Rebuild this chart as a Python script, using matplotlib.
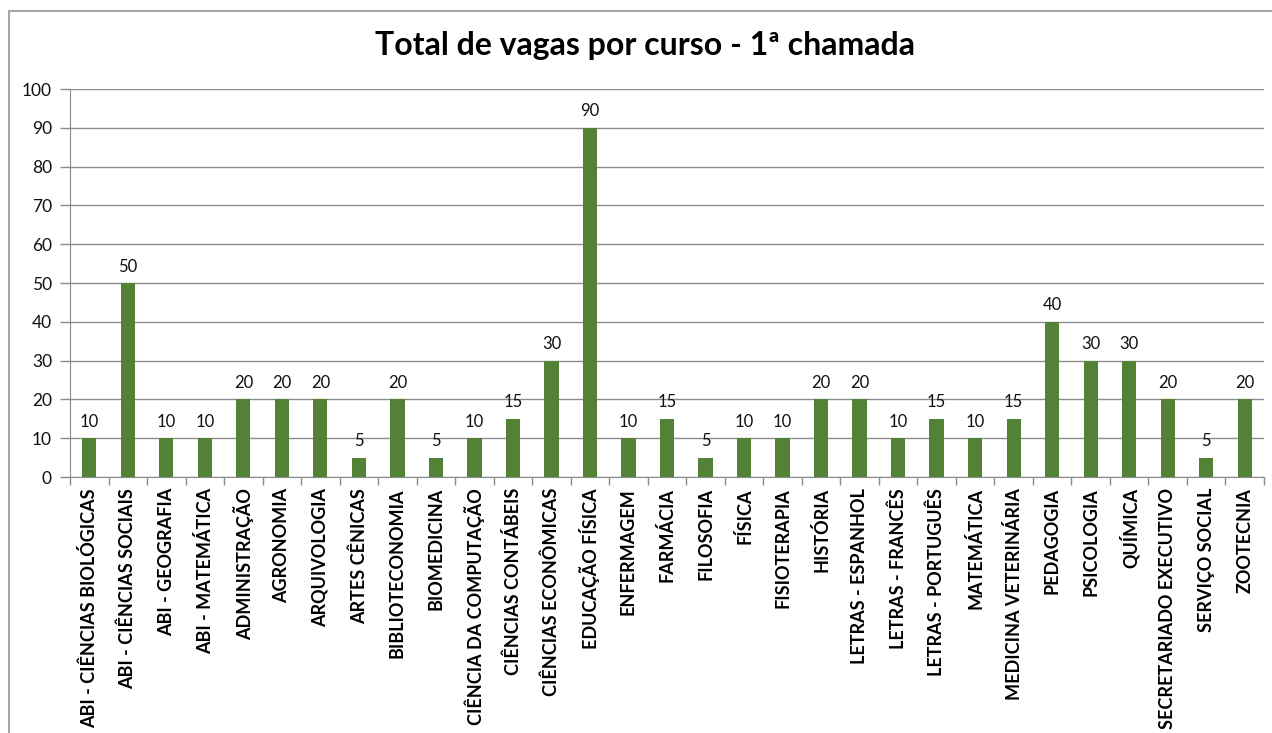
import matplotlib
matplotlib.use("Agg")
import matplotlib.pyplot as plt
from matplotlib.lines import Line2D

plt.rcParams['font.family'] = ['Lato', 'DejaVu Sans']

cursos = [
    "ABI - CIÊNCIAS BIOLÓGICAS", "ABI - CIÊNCIAS SOCIAIS", "ABI - GEOGRAFIA",
    "ABI - MATEMÁTICA", "ADMINISTRAÇÃO", "AGRONOMIA", "ARQUIVOLOGIA",
    "ARTES CÊNICAS", "BIBLIOTECONOMIA", "BIOMEDICINA", "CIÊNCIA DA COMPUTAÇÃO",
    "CIÊNCIAS CONTÁBEIS", "CIÊNCIAS ECONÔMICAS", "EDUCAÇÃO FÍSICA", "ENFERMAGEM",
    "FARMÁCIA", "FILOSOFIA", "FÍSICA", "FISIOTERAPIA", "HISTÓRIA",
    "LETRAS - ESPANHOL", "LETRAS - FRANCÊS", "LETRAS - PORTUGUÊS", "MATEMÁTICA",
    "MEDICINA VETERINÁRIA", "PEDAGOGIA", "PSICOLOGIA", "QUÍMICA",
    "SECRETARIADO EXECUTIVO", "SERVIÇO SOCIAL", "ZOOTECNIA",
]
vagas = [10, 50, 10, 10, 20, 20, 20, 5, 20, 5, 10, 15, 30, 90, 10,
         15, 5, 10, 10, 20, 20, 10, 15, 10, 15, 40, 30, 30, 20, 5, 20]
yticks = [0, 10, 20, 30, 40, 50, 60, 70, 80, 90, 100]
titulo = "Total de vagas por curso - 1ª chamada"

W, H = 1272, 733
fig = plt.figure(figsize=(W / 100, H / 100), dpi=100)

# chart border (cropped at right and bottom)
border_col = "#a6a6a6"
fig.add_artist(Line2D([9 / W, 1.0], [1 - 11 / H, 1 - 11 / H], transform=fig.transFigure,
                      color=border_col, lw=1.5))
fig.add_artist(Line2D([9 / W, 9 / W], [1 - 11 / H, 0.0], transform=fig.transFigure,
                      color=border_col, lw=1.5))

left, right = 70 / W, 1264 / W
bottom, top = 1 - 477 / H, 1 - 89 / H
ax = fig.add_axes([left, bottom, right - left, top - bottom])

x = list(range(len(cursos)))
ax.bar(x, vagas, width=0.37, color="#538135", zorder=3)

for xi, v in zip(x, vagas):
    ax.annotate(str(v), (xi, v), xytext=(0, 6), textcoords="offset points",
                ha="center", va="bottom", fontsize=12, color="#111111")

ax.set_xlim(-0.5, len(cursos) - 0.5)
ax.set_ylim(0, 100)
ax.set_yticks(yticks)
ax.set_yticklabels([str(t) for t in yticks], fontsize=12.5, color="#111111")
ax.yaxis.grid(True, color="#8c8c8c", lw=1.0, zorder=0)
ax.set_axisbelow(True)

ax.set_xticks(x)
ax.set_xticklabels(cursos, rotation=90, fontsize=13, fontweight="bold",
                   color="#000000", va="top", ha="center")
ax.tick_params(axis="x", length=0, pad=8)
# minor ticks between categories
ax.set_xticks([i - 0.5 for i in range(len(cursos) + 1)], minor=True)
ax.tick_params(axis="x", which="minor", length=6, color="#8c8c8c", width=1)
ax.tick_params(axis="y", length=7, color="#8c8c8c", width=1, pad=6)

for s in ["top", "right"]:
    ax.spines[s].set_visible(False)
ax.spines["left"].set_color("#8c8c8c")
ax.spines["bottom"].set_color("#8c8c8c")

fig.text(645 / W, 1 - 45 / H, titulo, ha="center", va="center",
         fontsize=23, fontweight="bold", color="#000000")

fig.savefig("out.png", dpi=100)
